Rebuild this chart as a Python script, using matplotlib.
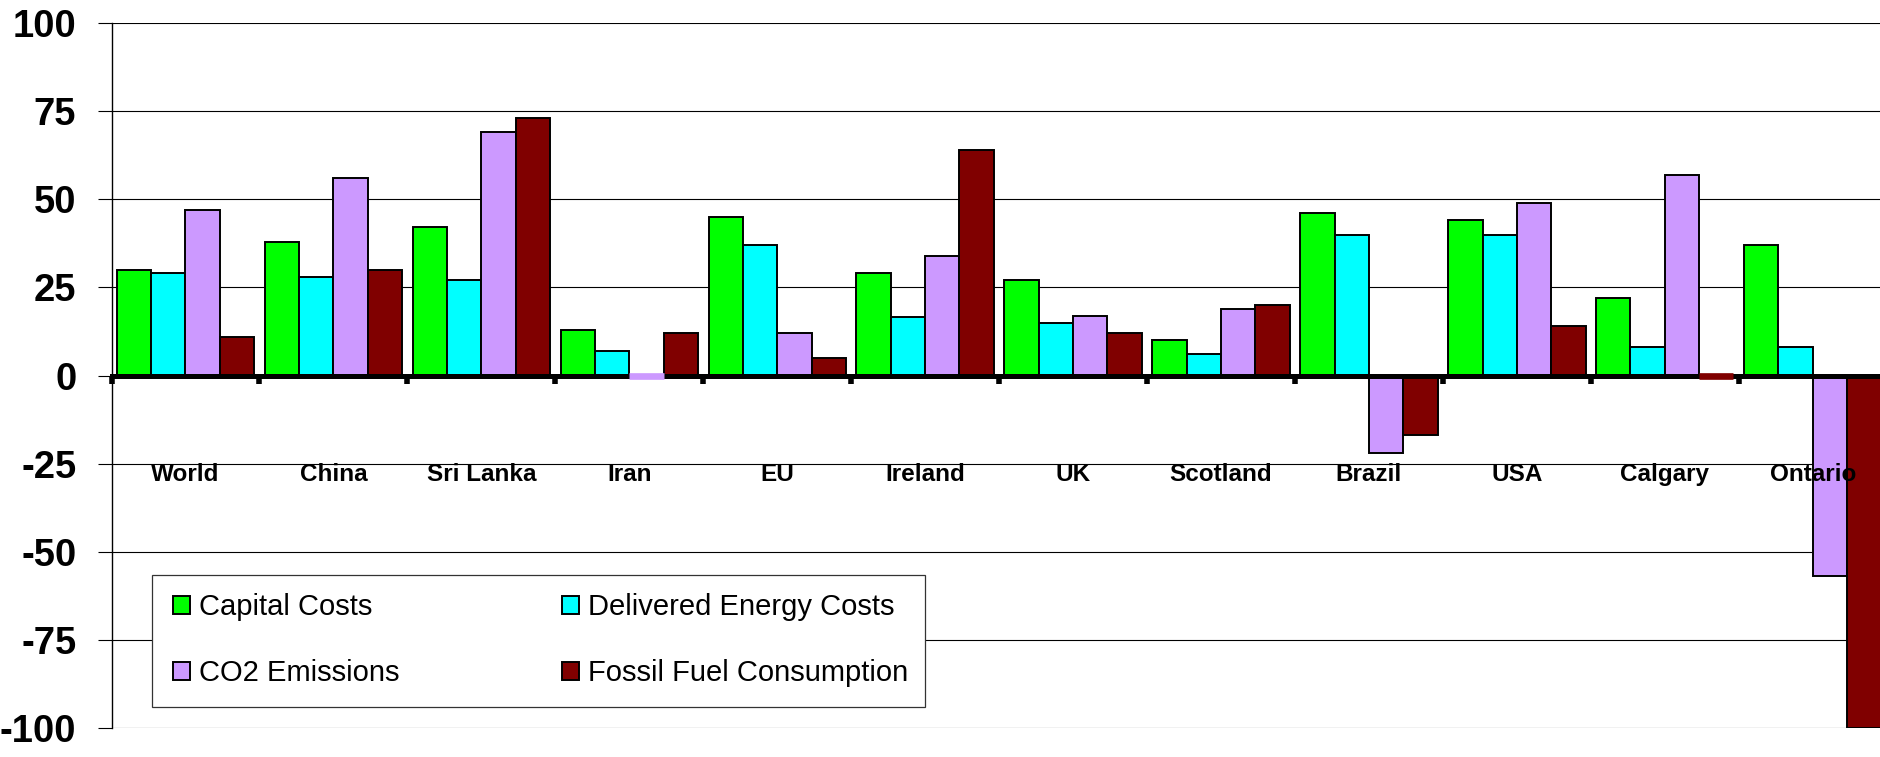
import matplotlib
matplotlib.use("Agg")
import matplotlib.pyplot as plt
from matplotlib.patches import Rectangle
import numpy as np

plt.rcParams["font.family"] = ["Liberation Sans", "DejaVu Sans"]

# Percentage change by region for each indicator
regions = ["World", "China", "Sri Lanka", "Iran", "EU", "Ireland", "UK",
           "Scotland", "Brazil", "USA", "Calgary", "Ontario"]
capital_costs = [30, 38, 42, 13, 45, 29, 27, 10, 46, 44, 22, 37]
delivered_energy_costs = [29, 28, 27, 7, 37, 16.5, 15, 6, 40, 40, 8, 8]
co2_emissions = [47, 56, 69, 0, 12, 34, 17, 19, -22, 49, 57, -57]
fossil_fuel_consumption = [11, 30, 73, 12, 5, 64, 12, 20, -17, 14, 0, -100]

series_names = ["Capital Costs", "Delivered Energy Costs", "CO2 Emissions",
                "Fossil Fuel Consumption"]
series_values = [capital_costs, delivered_energy_costs, co2_emissions,
                 fossil_fuel_consumption]
colors = ["#00FF00", "#00FFFF", "#CC99FF", "#800000"]
y_ticks = [-100, -75, -50, -25, 0, 25, 50, 75, 100]

W, H = 1880, 757
fig = plt.figure(figsize=(W / 100, H / 100), dpi=100)
ax = fig.add_axes([111.5 / W, (H - 728) / H, 1775.2 / W, 705 / H])

x = np.arange(len(regions))
width = 0.232
offsets = (np.arange(len(series_names)) - 1.5) * width

handles = []
for vals, name, col, off in zip(series_values, series_names, colors, offsets):
    vals = np.asarray(vals, dtype=float)
    bars = ax.bar(x + off, vals, width, color=col, edgecolor="black",
                  linewidth=1.4, label=name, zorder=2)
    # zero values show up as a flat coloured strip over the axis line
    for b, v in zip(bars, vals):
        if v == 0:
            b.set_edgecolor(col)
            b.set_linewidth(4.8)
            b.set_zorder(4)
    handles.append(bars)

ax.set_xlim(-0.5, len(regions) - 0.5)
ax.set_ylim(-100, 100)
ax.set_yticks(y_ticks)
ax.set_yticklabels([str(t) for t in y_ticks], fontsize=27.5, fontweight="bold")
ax.tick_params(axis="y", length=9.8, width=0.8, color="black", pad=15.5,
               direction="out")
ax.grid(axis="y", color="black", linewidth=0.8)
ax.set_axisbelow(True)

ax.set_xticks(np.arange(-0.5, len(regions), 1.0))
ax.set_xticklabels([])
ax.tick_params(axis="x", length=5.5, width=4, color="black", direction="out")

for side in ("top", "right"):
    ax.spines[side].set_visible(False)
ax.spines["left"].set_linewidth(1.0)
ax.spines["bottom"].set_position(("data", 0))
ax.spines["bottom"].set_linewidth(3.6)

for xi, name in zip(x, regions):
    ax.text(xi, -28, name, ha="center", va="center", fontsize=17.5,
            fontweight="bold", zorder=6)

# legend box
ax.add_patch(Rectangle((0.02265, 0.0302), 0.4356, 0.1868, transform=ax.transAxes,
                       facecolor="white", edgecolor="#333333", linewidth=0.9,
                       zorder=4.5))

order = [0, 2, 1, 3]
leg = ax.legend([handles[i] for i in order], [series_names[i] for i in order],
                ncol=2, loc="upper left", bbox_to_anchor=(0.0348, 0.191),
                borderaxespad=0, borderpad=0, fontsize=21, frameon=False,
                handlelength=0.58, handleheight=0.58, handletextpad=0.3,
                columnspacing=5.58, labelspacing=1.29)
leg.set_zorder(5)

fig.savefig("out.png", dpi=100)
